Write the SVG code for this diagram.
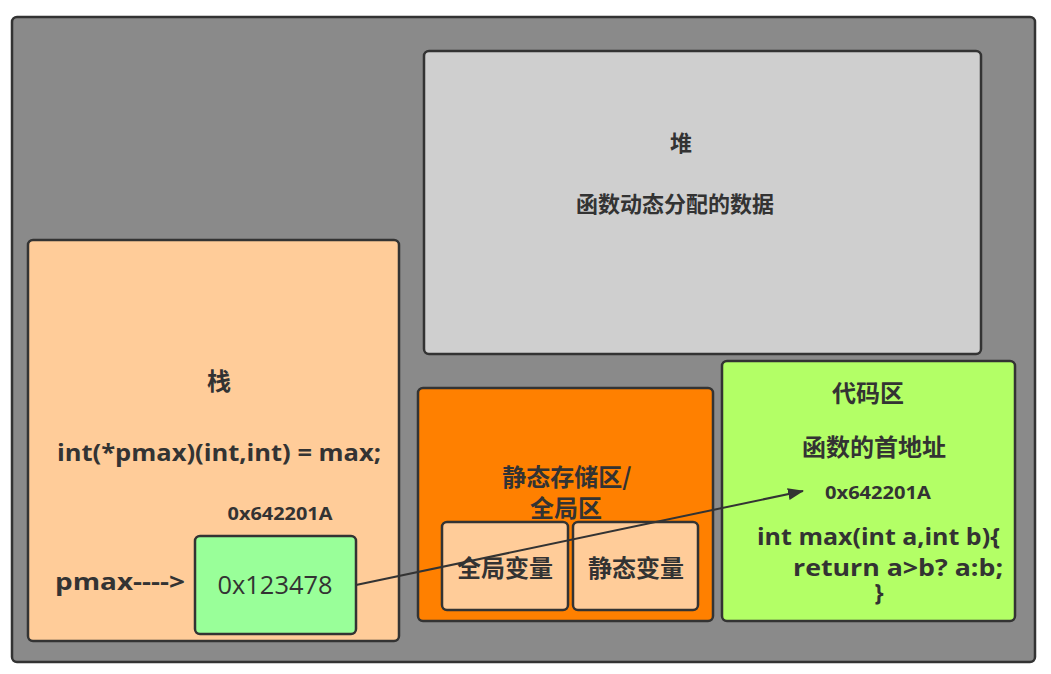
<svg xmlns="http://www.w3.org/2000/svg" width="1051" height="674" viewBox="0 0 1051 674">
<defs>
<style>
.box{stroke:#333;stroke-width:2.5}
.t{font-family:"Open Sans","Noto Sans CJK SC",sans-serif;fill:#333;font-weight:bold;text-anchor:middle}
.s{text-anchor:start}
.c{font-family:"Noto Sans CJK SC","Open Sans",sans-serif;fill:#333;font-weight:bold;text-anchor:middle}
</style>
<marker id="arr" markerWidth="16" markerHeight="12" refX="15" refY="6" orient="auto" markerUnits="userSpaceOnUse">
<path d="M0,0 L16,6 L0,12 Z" fill="#333"/>
</marker>
</defs>
<rect width="1051" height="674" fill="#fff"/>
<g id="outer"><rect class="box" x="12" y="17" width="1023" height="645" rx="5" fill="#8a8a8a"/></g>
<g id="heap">
<rect class="box" x="424" y="51" width="557" height="303" rx="5" fill="#cfcfcf"/>
<text class="c" x="681" y="151" font-size="22">堆</text>
<text class="c" x="675" y="212" font-size="22">函数动态分配的数据</text>
</g>
<g id="stack">
<rect class="box" x="28" y="240" width="371" height="401" rx="5" fill="#ffcc99"/>
<text class="c" x="219" y="390" font-size="24">栈</text>
<text class="t" x="219" y="461" font-size="23" textLength="324" lengthAdjust="spacingAndGlyphs">int(*pmax)(int,int) = max;</text>
<text class="t" x="280" y="520" font-size="18" textLength="105" lengthAdjust="spacingAndGlyphs">0x642201A</text>
<text class="t" x="120" y="590" font-size="23" textLength="130" lengthAdjust="spacingAndGlyphs">pmax----&gt;</text>
</g>
<g id="pmaxval">
<rect class="box" x="195" y="536" width="161" height="98" rx="5" fill="#99ff99"/>
<text x="275" y="594" font-size="25" fill="#333" text-anchor="middle" font-family="Open Sans,sans-serif" textLength="115" lengthAdjust="spacingAndGlyphs">0x123478</text>
</g>
<g id="static">
<rect class="box" x="418" y="388" width="295" height="233" rx="5" fill="#ff8000"/>
<text class="c" x="567" y="486" font-size="24">静态存储区/</text>
<text class="c" x="566" y="517" font-size="24">全局区</text>
</g>
<g id="globalvar">
<rect class="box" x="442" y="522" width="126" height="88" rx="5" fill="#ffcc99"/>
<text class="c" x="505" y="577" font-size="24">全局变量</text>
</g>
<g id="staticvar">
<rect class="box" x="573" y="522" width="125" height="88" rx="5" fill="#ffcc99"/>
<text class="c" x="636" y="577" font-size="24">静态变量</text>
</g>
<g id="code">
<rect class="box" x="722" y="361" width="293" height="260" rx="5" fill="#b3ff66"/>
<text class="c" x="868" y="402" font-size="24">代码区</text>
<text class="c" x="874" y="456" font-size="24">函数的首地址</text>
<text class="t" x="878" y="499" font-size="18" textLength="106" lengthAdjust="spacingAndGlyphs">0x642201A</text>
<text class="t s" x="757" y="545" font-size="23" textLength="243" lengthAdjust="spacingAndGlyphs">int max(int a,int b){</text>
<text class="t s" x="793" y="576" font-size="23" textLength="210" lengthAdjust="spacingAndGlyphs">return a&gt;b? a:b;</text>
<text class="t" x="879" y="601" font-size="23">}</text>
</g>
<g id="connectors">
<line x1="356" y1="585" x2="803" y2="491" stroke="#333" stroke-width="2" marker-end="url(#arr)"/>
</g>
</svg>
